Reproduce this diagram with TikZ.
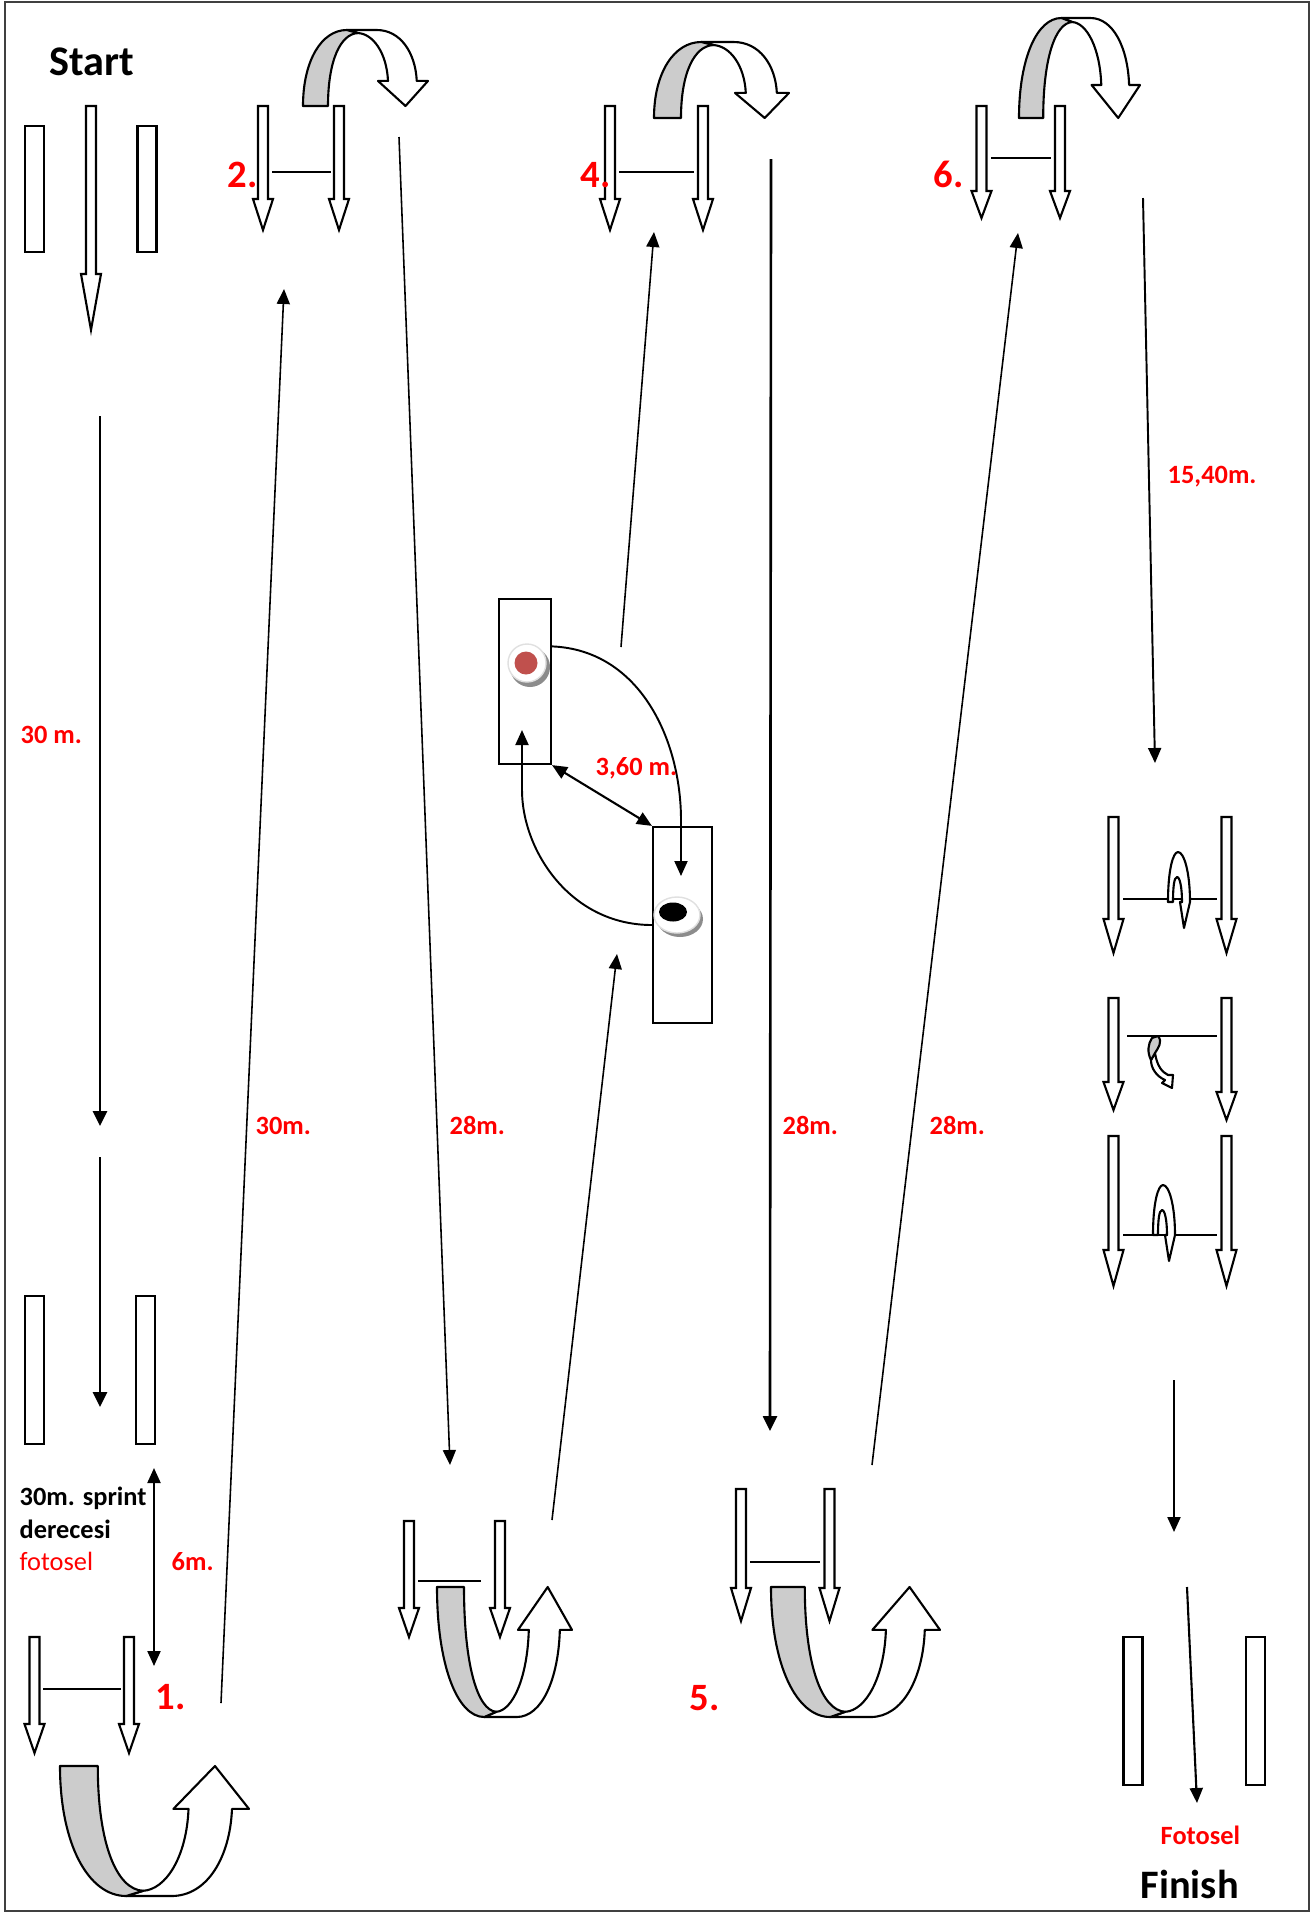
\documentclass[tikz,border=0pt]{standalone}
\usepackage{fontspec}
\setmainfont{Carlito}
\usetikzlibrary{arrows.meta, calc}

\definecolor{markred}{HTML}{FF0000}
\definecolor{conered}{HTML}{C0504D}
\definecolor{bandgray}{HTML}{CCCCCC}

% hollow down arrow: x, top, neck, tip
\newcommand{\downmark}[4]{%
  \draw[hollow] ({#1-5},#2) -- ({#1+5},#2) -- ({#1+5},#3) -- ({#1+10},#3)
    -- (#1,#4) -- ({#1-10},#3) -- ({#1-5},#3) -- cycle;
}
% turning band: left x, base y, width, height (negative = upwards)
\newcommand{\turnband}[4]{%
  \begin{scope}[shift={(#1,#2)}, xscale=#3, yscale=#4]
    \draw[band, fill=white] (0.35,1) -- (0.59,1) .. controls (0.78,1) and (0.9,0.7) .. (0.91,0.33)
      -- (1,0.33) -- (0.82,0) -- (0.6,0.33) -- (0.68,0.33)
      .. controls (0.67,0.7) and (0.56,0.95) .. (0.44,0.96) -- cycle;
    \draw[band, fill=bandgray] (0,0) -- (0.2,0) .. controls (0.2,0.6) and (0.3,0.95) .. (0.44,0.96)
      -- (0.35,1) .. controls (0.15,1) and (0,0.6) .. (0,0) -- cycle;
  \end{scope}%
}
% narrow hairpin turn on a bar: left x, bar y
\newcommand{\hairpin}[2]{%
  \begin{scope}[shift={(#1,#2)}]
    \draw[band, fill=white] (0,0) .. controls (0,-32) and (5,-50) .. (10,-50)
      .. controls (16,-50) and (22,-30) .. (22,0) -- (16,26) -- (12,0) -- (14,0)
      .. controls (14,-14) and (12,-25) .. (9,-25) .. controls (6,-25) and (5,-14) .. (5,0) -- cycle;
  \end{scope}%
}

\begin{document}
\begin{tikzpicture}[x=0.01cm, y=-0.01cm,
  hollow/.style={draw, line width=0.6pt, fill=white},
  band/.style={draw, line width=0.6pt, line join=round},
  slat/.style={rectangle, draw, line width=0.6pt, fill=white, minimum width=0.19cm, inner sep=0pt},
  pad/.style={rectangle, draw, line width=0.6pt, inner sep=0pt},
  bar/.style={line width=0.6pt},
  link/.style={-{Triangle[length=0.15cm, width=0.13cm]}, line width=0.45pt},
  run/.style={-{Triangle[length=0.15cm, width=0.14cm]}, line width=0.75pt},
  lbl/.style={font=\bfseries\fontsize{7.5}{9}\selectfont, text=markred, inner sep=0pt, anchor=base west},
  note/.style={font=\bfseries\fontsize{7.5}{9}\selectfont, inner sep=0pt, anchor=base west},
  num/.style={font=\bfseries\fontsize{11}{13}\selectfont, text=markred, inner sep=0pt, anchor=base west},
  ttl/.style={font=\bfseries\fontsize{12}{14}\selectfont, inner sep=0pt, anchor=base west}
]
\useasboundingbox (0,0) rectangle (1316,1914);
\draw[black!75, line width=0.6pt] (5,2) rectangle (1309,1911);

% ===== Start / 30 m sprint =====
\node[ttl] (start) at (49,75) {Start};
\node[slat, minimum height=1.26cm] (s1) at (34.5,189) {};
\node[slat, minimum height=1.26cm] (s2) at (147,189) {};
\downmark{91}{106}{274}{330}
\node[slat, minimum height=1.48cm] (m1) at (34.5,1370) {};
\node[slat, minimum height=1.48cm] (m2) at (145.5,1370) {};

\coordinate (sprintA) at (100,416);  \coordinate (sprintB) at (100,1126);
\coordinate (sprintC) at (100,1157); \coordinate (sprintD) at (100,1407);
\draw[run] (sprintA) -- (sprintB);
\draw[run] (sprintC) -- (sprintD);
\node[lbl] (l30) at (20,743) {30 m.};

\node[note] (n1) at (19,1505) {30m. sprint};
\node[note] (n2) at (19,1538) {derecesi};
\node[lbl, font=\fontsize{7.5}{9}\selectfont] (n3) at (19,1570) {fotosel};
\coordinate (gapA) at (154,1468); \coordinate (gapB) at (154,1666);
\draw[{Triangle[length=0.15cm, width=0.13cm]}-{Triangle[length=0.15cm, width=0.13cm]}, line width=0.6pt] (gapA) -- (gapB);
\node[lbl] (l6) at (171,1570) {6m.};

% ===== gates with hollow arrows =====
% gate 1
\downmark{34.5}{1637}{1724}{1753} \downmark{129}{1637}{1724}{1753}
\draw[bar] (43,1689) -- (121,1689);
\turnband{60}{1766}{189}{130}
\node[num] (g1) at (155,1709) {1.};
% gate 2
\downmark{263}{106}{199}{230} \downmark{339}{106}{199}{230}
\draw[bar] (272,172) -- (331,172);
\turnband{303}{106}{125}{-76}
\node[num] (g2) at (227,187) {2.};
% gate 3
\downmark{409}{1521}{1608}{1637} \downmark{500}{1521}{1608}{1637}
\draw[bar] (418,1581) -- (481,1581);
\turnband{437}{1587}{135}{130}
% gate 4
\downmark{610}{106}{199}{230} \downmark{703}{106}{199}{230}
\draw[bar] (619,172) -- (694,172);
\turnband{654}{118}{135}{-76}
\node[num] (g4) at (580,187) {4.};
% gate 5
\downmark{741}{1489}{1588}{1621} \downmark{829.5}{1489}{1588}{1621}
\draw[bar] (750,1562) -- (820,1562);
\turnband{771}{1587}{169}{130}
\node[num] (g5) at (689,1710) {5.};
% gate 6
\downmark{981.5}{106}{191}{218} \downmark{1060}{106}{191}{218}
\draw[bar] (991,158) -- (1051,158);
\turnband{1019}{118}{121}{-100}
\node[num] (g6) at (933,187) {6.};

% ===== cone pads =====
\node[pad, minimum width=0.52cm, minimum height=1.65cm] (pad1) at (525,681.5) {};
\node[pad, minimum width=0.59cm, minimum height=1.96cm] (pad2) at (682.5,925) {};
\fill[black!45] (530,667) circle (20);
\filldraw[fill=white, draw=black!12] (527,663) circle (19);
\fill[conered] (526,663) circle (11.5);
\fill[black!45] (680,919) ellipse (23 and 18);
\filldraw[fill=white, draw=black!12] (677,915) ellipse (23 and 18);
\fill[black] (673,912) ellipse (14 and 9.5);

\coordinate (swapA) at ($(pad1.north east)!0.29!(pad1.south east)$);
\coordinate (swapB) at (681,876);
\coordinate (swapD) at (522,730);
\draw[link, line width=0.55pt] (swapA) .. controls (640,650) and (681,740) .. (681,820) -- (swapB);
\draw[link, line width=0.55pt] (pad2.west) .. controls (570,925) and (522,850) .. (522,790) -- (swapD);
\draw[{Triangle[length=0.15cm, width=0.13cm]}-{Triangle[length=0.15cm, width=0.13cm]}, line width=0.6pt] (pad1.south east) -- (pad2.north west);
\node[lbl] (l360) at (595,775) {3,60 m.};

% ===== runs between gates =====
\coordinate (r1a) at (221,1703);  \coordinate (r1b) at (284,289);
\coordinate (r2a) at (399,137);   \coordinate (r2b) at (450,1465);
\coordinate (r3a) at (552,1520);  \coordinate (r3b) at (617,954);
\coordinate (r4a) at (621,647);   \coordinate (r4b) at (654,232);
\coordinate (r5a) at (771,159);   \coordinate (r5b) at (770,1431);
\coordinate (r6a) at (872,1465);  \coordinate (r6b) at (1018,233);
\coordinate (r7a) at (1143,198);  \coordinate (r7b) at (1155,763);
\draw[link] (r1a) -- (r1b);
\draw[link] (r2a) -- (r2b);
\draw[link] (r3a) -- (r3b);
\draw[link] (r4a) -- (r4b);
\draw[run] (r5a) -- (r5b);
\draw[link] (r6a) -- (r6b);
\draw[link, line width=0.55pt] (r7a) -- (r7b);
\node[lbl] (l30b) at (255,1134) {30m.};
\node[lbl] (l28a) at (449,1134) {28m.};
\node[lbl] (l28b) at (782,1134) {28m.};
\node[lbl] (l28c) at (929,1134) {28m.};
\node[lbl] (l1540) at (1167,483) {15,40m.};

% ===== final hurdles =====
\downmark{1113.5}{817}{919}{953} \downmark{1226.5}{817}{919}{953}
\draw[bar] (1123,899) -- (1217,899);
\hairpin{1168}{902}
\downmark{1113.5}{998}{1082}{1110} \downmark{1226.5}{998}{1092}{1120}
\draw[bar] (1127,1036) -- (1217,1036);
\draw[band, fill=white] (1155,1053) .. controls (1157,1066) and (1162,1072) .. (1168,1075)
  -- (1173,1075) -- (1172,1088) -- (1162,1083) -- (1165,1080)
  .. controls (1156,1076) and (1151,1068) .. (1151,1060) -- cycle;
\draw[band, fill=bandgray] (1152,1038) -- (1158,1036) .. controls (1163,1042) and (1158,1048) .. (1155,1053)
  -- (1151,1060) .. controls (1147,1052) and (1148,1044) .. (1152,1038) -- cycle;
\downmark{1113.5}{1136}{1250}{1286} \downmark{1226.5}{1136}{1250}{1286}
\draw[bar] (1123,1235) -- (1217,1235);
\hairpin{1153}{1235}

% ===== finish =====
\coordinate (fin0) at (1174,1380); \coordinate (fin1) at (1174,1532);
\coordinate (fin2) at (1187,1587); \coordinate (fin3) at (1197,1803);
\draw[link, line width=0.6pt] (fin0) -- (fin1);
\draw[link, line width=0.6pt] (fin2) -- (fin3);
\node[slat, minimum height=1.48cm] (f1) at (1133,1711) {};
\node[slat, minimum height=1.48cm] (f2) at (1255.5,1711) {};
\node[lbl] (lfoto) at (1160,1844) {Fotosel};
\node[ttl, font=\bfseries\fontsize{11.5}{14}\selectfont] (finish) at (1140,1898) {Finish};
\end{tikzpicture}
\end{document}
